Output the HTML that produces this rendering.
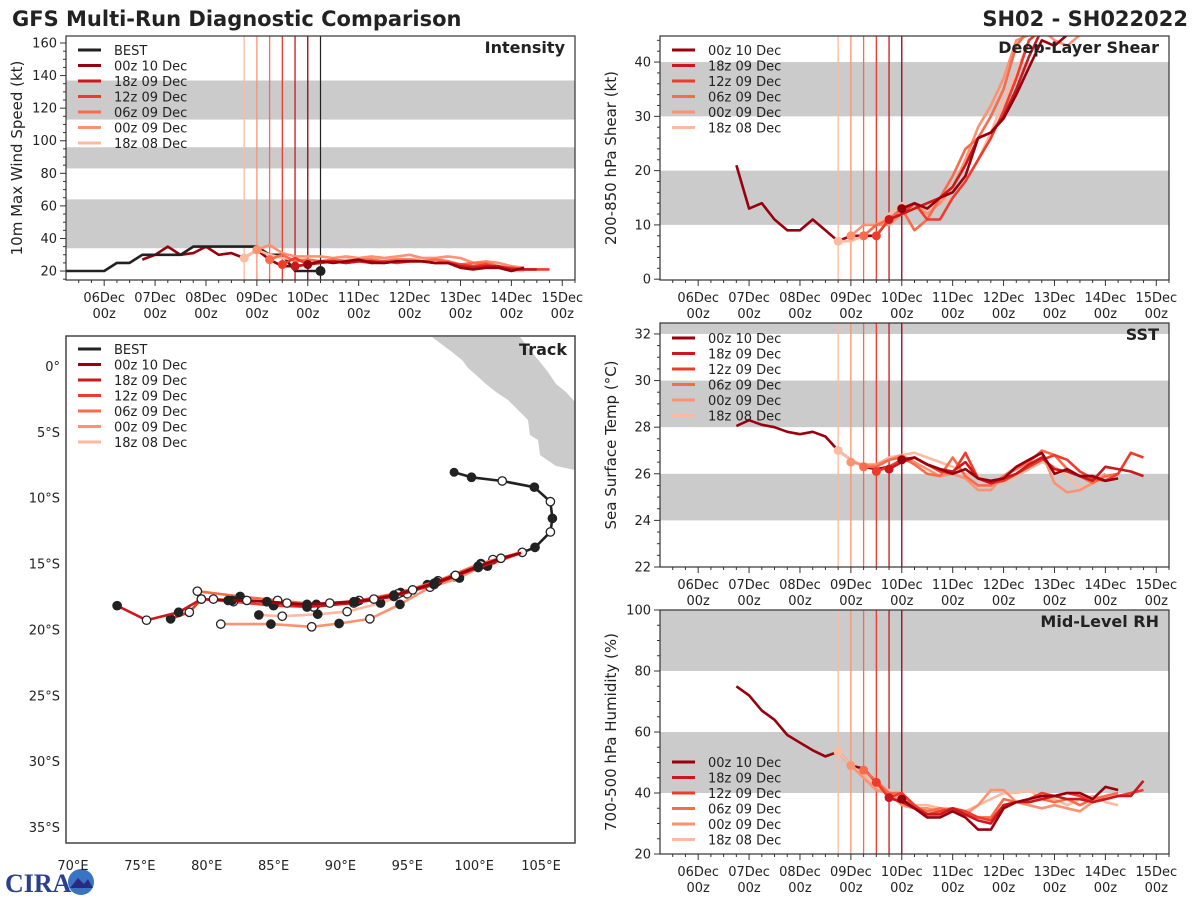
<!DOCTYPE html>
<html><head><meta charset="utf-8"><style>
body{margin:0;background:#fff;}
svg{display:block;font-family:"DejaVu Sans","Liberation Sans",sans-serif;}
</style></head><body>
<svg id="fig" width="1200" height="900" viewBox="0 0 1200 900">
<text x="12" y="26" font-size="21" font-weight="bold" fill="#222">GFS Multi-Run Diagnostic Comparison</text>
<text x="1188" y="26" font-size="21" font-weight="bold" fill="#222" text-anchor="end">SH02 - SH022022</text>
<g>
<text x="5" y="892" font-size="26" font-weight="bold" fill="#2a3f8f" font-family="Liberation Serif,serif">CIRA</text>
<circle cx="81" cy="882" r="13" fill="#3a73c4"/>
<path d="M70 888 L78 878 L84 884 L88 879 L93 888 Z" fill="#2a2a80"/>
</g>
</svg>
<script>
const runNames=['00z 10 Dec','18z 09 Dec','12z 09 Dec','06z 09 Dec','00z 09 Dec','18z 08 Dec'];
const runInit=[10.0,9.75,9.5,9.25,9.0,8.75];
const runColors=['#99000d','#cb181d','#ef3b2c','#fb6a4a','#fc9272','#fcbba1'];
const dayLabels=['06Dec','07Dec','08Dec','09Dec','10Dec','11Dec','12Dec','13Dec','14Dec','15Dec'];
const dayValues=[6,7,8,9,10,11,12,13,14,15];
const histStart=6.75;
const bestIntStart=5.25;
const bestInt=[20,20,20,20,25,25,30,30,30,30,35,35,35,35,35,35,30,30,20,20,20];
const intHist=[27,30,35,30,31,35,30,31,28,33,27,23,23,24];
const intRuns=[
[24,26,25,26,27,25,25,26,26,26,25,25,22,21,22,22,20,22],
[23,24,25,26,25,26,26,25,26,26,26,25,25,23,22,23,23,21,21,21],
[24,28,24,26,26,25,26,25,26,25,26,26,25,25,24,23,24,22,22,21,21,21],
[27,30,26,27,26,27,26,27,27,26,27,27,26,27,26,24,25,25,23,22,21],
[33,36,31,29,29,29,28,29,28,29,28,29,30,28,28,29,28,25,26,25,23,22],
[28,33,30,28,27,27,26,26,27,28,28,28,27,27,28,28,26,24,25,24,22,20,20]];
const shrHist=[21,13,14,11,9,9,11,9,7,8,8,8,11,13];
const shrRuns=[
[13,14,13,15,16,19,26,27,29.6,34,39,44,43,45,47,49],
[11,12,13,14,15,17,21,26,27,30,35,41,46,47,48],
[8,11,12,14,11,11,15,18,22,26,31,37,44,46,47],
[8,10,11,13,9,11,15,19,24,26,30,35,43,46,48],
[8,10,10,10,12,14,12,14,17,22,28,32,37,44,45,46,44,43,45],
[7,7,8,10,12,14,13,13,14,15,18,22,27,33,38,44,46,47]];
const sstHist=[28.05,28.3,28.1,28.0,27.8,27.7,27.8,27.6,27.0,26.6,26.3,26.2,26.3,26.6];
const sstRuns=[
[26.6,26.7,26.4,26.2,26.0,26.2,25.8,25.7,25.8,26.3,26.6,26.9,26.0,26.2,25.9,25.9,25.7,25.8],
[26.2,26.5,26.7,26.4,26.2,26.1,26.5,25.8,25.6,25.8,26.0,26.4,26.7,26.2,26.1,25.9,25.7,26.3,26.2,26.1,25.9],
[26.1,26.3,26.6,26.7,26.4,26.1,26.0,26.9,25.8,25.6,25.7,26.0,26.3,26.6,26.8,26.6,26.1,25.8,25.7,26.0,26.9,26.7],
[26.3,26.3,26.6,26.7,26.4,26.0,25.9,26.7,25.9,25.5,25.5,25.9,26.2,26.5,27.0,26.8,26.2,25.9,25.6,25.9,26.0],
[26.5,26.4,26.4,26.6,26.8,26.5,26.2,25.9,26.0,25.8,25.3,25.3,25.9,26.3,26.6,26.9,25.6,25.2,25.3,25.6,26.0],
[27.0,26.6,26.3,26.4,26.7,26.8,26.9,26.7,26.5,26.3,26.0,25.9,25.6,25.6,25.9,26.2,26.5,26.3,25.9,25.4,25.6,25.9,26.0]];
const rhHist=[75,72,67,64,59,56.5,54,52,53.5,49,48,43.5,38.5,38];
const rhRuns=[
[38,35,32,32,34,32,28,28,35,37,38,39,39,40,40,38,42,41],
[38.5,37,35,33,33,35,33,31,30,36,37,37,38,39,38,38,37,38,39,39,44],
[43.5,38.5,40,36,33,34,35,34,32,31,36,37,38,40,39,40,39,37,38,39,40,41],
[47.5,44,40,40,35,34,35,34,33,32,32,38,37,37,38,37,38,36,38,39,40],
[49,45,41,40,36,35,35,34,34,33,36,41,41,37,36,35,36,35,34,37,39],
[53.5,49,46,42,41,37,36,36,35,35,34,36,38,40,40,41,38,38,36,38,39,37,36]];
const bestTrackLon=[98.5,99.8,102.1,104.5,105.7,105.85,105.7,104.55,103.6];
const bestTrackLat=[-8.07,-8.45,-8.73,-9.2,-10.3,-11.57,-12.6,-13.77,-14.15];
const trackLon=[
[103.5,102.0,100.3,98.6,97.0,95.4,94.0,92.5,91.0,89.2,87.5,86.0,84.5,83.0,81.6,80.5],
[103.5,100.3,97.0,94.0,91.0,87.5,84.5,81.9,79.6,77.9,75.5,73.3],
[103.4,100.5,97.2,94.3,91.2,88.0,85.0,82.0,79.6,78.7,77.3],
[103.3,100.5,97.3,94.5,91.4,88.2,85.3,82.5,79.3],
[103.2,101.4,98.9,96.7,94.45,92.2,89.9,87.85,84.8,81.05],
[103.6,101.0,98.5,96.5,95.0,93.0,90.5,88.3,85.65,83.9]];
const trackLat=[
[-14.2,-14.6,-15.2,-15.9,-16.5,-17.0,-17.4,-17.7,-17.9,-18.0,-18.1,-18.0,-17.9,-17.8,-17.8,-17.7],
[-14.2,-15.3,-16.6,-17.5,-18.0,-18.3,-17.9,-17.8,-17.7,-18.7,-19.3,-18.2],
[-14.2,-15.1,-16.4,-17.3,-17.9,-18.3,-18.2,-17.9,-17.7,-18.7,-19.2],
[-14.2,-15.0,-16.3,-17.2,-17.8,-18.1,-17.8,-17.5,-17.1],
[-14.3,-14.7,-16.1,-16.8,-18.1,-19.2,-19.55,-19.8,-19.6,-19.6],
[-14.15,-15.2,-16.0,-16.6,-17.3,-18.0,-18.65,-18.85,-19.0,-18.9]];

const NS='http://www.w3.org/2000/svg';
const svg=document.getElementById('fig');
function mk(tag,attrs,parent){const e=document.createElementNS(NS,tag);for(const k in attrs)e.setAttribute(k,attrs[k]);(parent||svg).appendChild(e);return e;}
let clipId=0;

function panel(p){
  const g=mk('g',{});
  
  
  const tx=d=>p.x0+(d-5.25)/10*(p.x1-p.x0);
  const ty=v=>p.y1-(v-p.vmin)/(p.vmax-p.vmin)*(p.y1-p.y0);
  const cid='c'+(clipId++);
  const cp=mk('clipPath',{id:cid},g);mk('rect',{x:p.x0,y:p.y0,width:p.x1-p.x0,height:p.y1-p.y0},cp);
  const inner=mk('g',{'clip-path':'url(#'+cid+')'},g);
  p.bands.forEach(b=>{const r=mk('rect',{x:p.x0,y:ty(b[1]),width:p.x1-p.x0,height:ty(b[0])-ty(b[1]),fill:'#cbcbcb'},inner);
    });
  runInit.forEach((d,i)=>{const l=mk('line',{x1:tx(d),x2:tx(d),y1:p.y0,y2:p.y1,stroke:runColors[i],'stroke-width':1.3},inner);
    });
  if(p.best){const l=mk('line',{x1:tx(10.25),x2:tx(10.25),y1:p.y0,y2:p.y1,stroke:'#222','stroke-width':1.2},inner);
    }
  const line=(start,vals,color,w,name)=>{const pts=vals.map((v,k)=>tx(start+k*0.25).toFixed(1)+','+ty(v).toFixed(1)).join(' ');
    const pl=mk('polyline',{points:pts,fill:'none',stroke:color,'stroke-width':w,'stroke-linejoin':'round'},inner);
    };
  line(histStart,p.hist,runColors[0],2.6,'history-line');
  if(p.best)line(bestIntStart,p.best,'#222',2.6,'best-line');
  for(let i=p.runs.length-1;i>=0;i--)line(runInit[i],p.runs[i],runColors[i],2.6,'run-line');
  for(let i=p.runs.length-1;i>=0;i--){const c=mk('circle',{cx:tx(runInit[i]),cy:ty(p.runs[i][0]),r:4.5,fill:runColors[i]},inner);
    }
  if(p.best){const c=mk('circle',{cx:tx(10.25),cy:ty(p.best[p.best.length-1]),r:5,fill:'#222'},inner);
    }
  mk('rect',{x:p.x0,y:p.y0,width:p.x1-p.x0,height:p.y1-p.y0,fill:'none',stroke:'#333','stroke-width':1.2},g);
  for(let d=5.5;d<=15.25;d+=0.25){const X=tx(d);const major=Math.abs(d-Math.round(d))<1e-6;
    mk('line',{x1:X,x2:X,y1:p.y1,y2:p.y1+(major?6:3),stroke:'#333','stroke-width':1},g);}
  dayValues.forEach((d,i)=>{const t=mk('text',{x:tx(d),y:p.y1+22,'font-size':13,fill:'#222','text-anchor':'middle'},g);t.textContent=dayLabels[i];
    
    const t2=mk('text',{x:tx(d),y:p.y1+38,'font-size':13,fill:'#222','text-anchor':'middle'},g);t2.textContent='00z';
    });
  for(let v=p.ymin0;v<=p.vmax+1e-6;v+=p.minor){const Y=ty(v);if(Y<p.y0-0.5||Y>p.y1+0.5)continue;
    const major=Math.abs((v-p.ymaj0)/p.major-Math.round((v-p.ymaj0)/p.major))<1e-6;
    mk('line',{x1:p.x0,x2:p.x0-(major?6:3),y1:Y,y2:Y,stroke:'#333','stroke-width':1},g);
    if(major){const t=mk('text',{x:p.x0-9,y:Y+4.5,'font-size':13,fill:'#222','text-anchor':'end'},g);t.textContent=Math.round(v);
      }}
  const yt=mk('text',{x:0,y:0,'font-size':15,fill:'#222','text-anchor':'middle',transform:`translate(${p.x0-44},${(p.y0+p.y1)/2}) rotate(-90)`},g);
  yt.textContent=p.ytitle;
  const lt=mk('text',{x:p.x1-10,y:p.y0+17,'font-size':16,'font-weight':'bold',fill:'#222','text-anchor':'end'},g);
  lt.textContent=p.label;
  legend(g,p.x0+12,p.legY,p.best);
}
function legend(g,x,y,withBest){
  const names=(withBest?['BEST']:[]).concat(runNames);const cols=(withBest?['#222']:[]).concat(runColors);
  const lg=mk('g',{},g);
  names.forEach((n,i)=>{const Y=y+i*15.5;
    const e=mk('g',{},lg);
    mk('line',{x1:x,x2:x+23,y1:Y,y2:Y,stroke:cols[i],'stroke-width':3},e);
    const t=mk('text',{x:x+36,y:Y+5,'font-size':13,fill:'#222'},e);t.textContent=n;});
}
panel({name:'intensity-panel',x0:66,x1:575,y0:36,y1:280,vmin:14.5,vmax:164.3,bands:[[34,64],[83,96],[113,137]],
  hist:intHist,runs:intRuns,best:bestInt,ymin0:15,minor:5,major:20,ymaj0:20,ytitle:'10m Max Wind Speed (kt)',label:'Intensity',legY:50});
panel({name:'shear-panel',x0:660,x1:1169,y0:36,y1:280,vmin:-0.15,vmax:44.8,bands:[[10,20],[30,40]],
  hist:shrHist,runs:shrRuns,ymin0:0,minor:2,major:10,ymaj0:0,ytitle:'200-850 hPa Shear (kt)',label:'Deep-Layer Shear',legY:50});
panel({name:'sst-panel',x0:660,x1:1169,y0:323,y1:567,vmin:22,vmax:32.47,bands:[[24,26],[28,30],[32,33]],
  hist:sstHist,runs:sstRuns,ymin0:22,minor:0.5,major:2,ymaj0:22,ytitle:'Sea Surface Temp (°C)',label:'SST',legY:338});
panel({name:'rh-panel',x0:660,x1:1169,y0:610,y1:854,vmin:20,vmax:100,bands:[[40,60],[80,100]],
  hist:rhHist,runs:rhRuns,ymin0:20,minor:5,major:20,ymaj0:20,ytitle:'700-500 hPa Humidity (%)',label:'Mid-Level RH',legY:762});

(function(){
  const x0=66,x1=575,y0=336,y1=843;
  const lx=lon=>73+(lon-70)*13.372;
  const ly=lat=>366-lat*13.17;
  const g=mk('g',{});
  const cp=mk('clipPath',{id:'trk'},g);mk('rect',{x:x0,y:y0,width:x1-x0,height:y1-y0},cp);
  const inner=mk('g',{'clip-path':'url(#trk)'},g);
  const land=mk('path',{d:'M432 337 L520 337 L530 350 L540 362 L548 372 L556 384 L566 392 L575 402 L575 470 L566 468 L556 466 L540 455 L538 440 L530 435 L528 420 L518 410 L508 400 L496 392 L486 384 L476 375 L468 368 L462 360 L452 352 L444 346 Z M548 448 L575 447 L575 470 L556 466 Z',fill:'#cbcbcb'},inner);
  
  const drawTrack=(lons,lats,color,name,mstart)=>{
    const pts=lons.map((v,k)=>lx(v).toFixed(1)+','+ly(lats[k]).toFixed(1)).join(' ');
    const pl=mk('polyline',{points:pts,fill:'none',stroke:color,'stroke-width':2.6,'stroke-linejoin':'round'},inner);
    
    lons.forEach((v,k)=>{if(k===0)return;const filled=(k+mstart)%2===0;
      const c=mk('circle',{cx:lx(v),cy:ly(lats[k]),r:4.2,fill:filled?'#222':'#fff',stroke:'#222','stroke-width':1.3},inner);
      });
  };
  drawTrack(bestTrackLon,bestTrackLat,'#222','best-track',1);
  const c0=mk('circle',{cx:lx(bestTrackLon[0]),cy:ly(bestTrackLat[0]),r:4.5,fill:'#222'},inner);
  
  for(let i=trackLon.length-1;i>=0;i--)drawTrack(trackLon[i],trackLat[i],runColors[i],'forecast-track',i);
  mk('rect',{x:x0,y:y0,width:x1-x0,height:y1-y0,fill:'none',stroke:'#444','stroke-width':1.5},g);
  [0,5,10,15,20,25,30,35].forEach(l=>{const t=mk('text',{x:60,y:ly(-l)+5,'font-size':13,fill:'#222','text-anchor':'end'},g);
    t.textContent=l===0?'0°':l+'°S';});
  [70,75,80,85,90,95,100,105].forEach(l=>{const t=mk('text',{x:lx(l),y:870,'font-size':13,fill:'#222','text-anchor':'middle'},g);
    t.textContent=l+'°E';});
  const lt=mk('text',{x:x1-8,y:y0+19,'font-size':16,'font-weight':'bold',fill:'#222','text-anchor':'end'},g);
  lt.textContent='Track';
  legend(g,78,349,true);
})();
</script>
</body></html>
